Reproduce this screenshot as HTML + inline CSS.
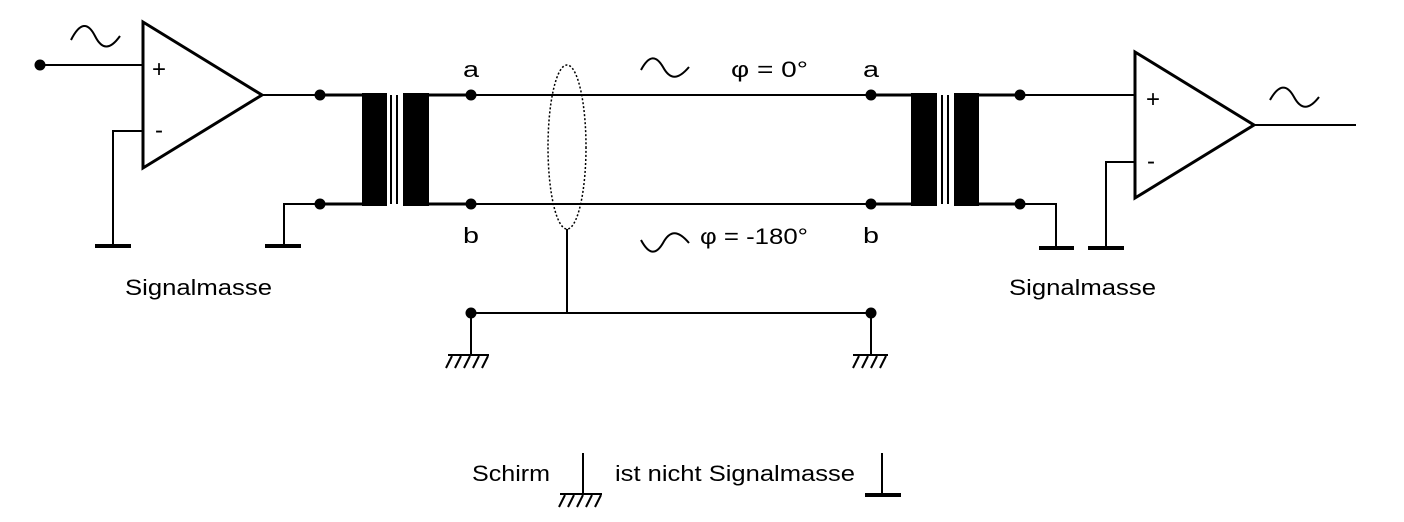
<!DOCTYPE html>
<html><head><style>body{margin:0;background:#fff}svg{display:block}text{font-family:"Liberation Sans",Arial,sans-serif;fill:#000}</style></head><body>
<svg width="1404" height="522" viewBox="0 0 1404 522" xmlns="http://www.w3.org/2000/svg">
<g stroke="#000" fill="none" stroke-width="2">
<polygon points="143,22 143,168 262,95" stroke-width="3"/>
<line x1="40" y1="65" x2="143" y2="65"/>
<polyline points="143,131 113,131 113,246"/>
<line x1="95" y1="246" x2="131" y2="246" stroke-width="4"/>
<path d="M71,40 C80,22 88,22 95,36 C102,50 110,50 120,36"/>
<line x1="262" y1="95" x2="320" y2="95"/>
<line x1="320" y1="95" x2="362" y2="95" stroke-width="3"/>
<line x1="320" y1="204" x2="362" y2="204" stroke-width="3"/>
<polyline points="320,204 284,204 284,246"/>
<line x1="265" y1="246" x2="301" y2="246" stroke-width="4"/>
<line x1="391" y1="95" x2="391" y2="204"/>
<line x1="397" y1="95" x2="397" y2="204"/>
<line x1="429" y1="95" x2="471" y2="95" stroke-width="3"/>
<line x1="429" y1="204" x2="471" y2="204" stroke-width="3"/>
<line x1="471" y1="95" x2="871" y2="95"/>
<line x1="471" y1="204" x2="871" y2="204"/>
<path d="M641,70 C649,55 656,55 663,67 C670,80 678,80 689,67"/>
<path d="M641,240 C649,255 656,255 663,243 C670,230 678,230 689,243"/>
<ellipse cx="567" cy="147" rx="19" ry="82" stroke-width="1.5" stroke-dasharray="2,2"/>
<line x1="567" y1="229" x2="567" y2="313"/>
<line x1="471" y1="313" x2="871" y2="313"/>
<line x1="471" y1="313" x2="471" y2="355"/>
<line x1="448" y1="355" x2="489" y2="355"/>
<path d="M452,356 l-6,12 M461,356 l-6,12 M470,356 l-6,12 M479,356 l-6,12 M488,356 l-6,12"/>
<line x1="871" y1="313" x2="871" y2="355"/>
<line x1="853" y1="355" x2="888" y2="355"/>
<path d="M859,356 l-6,12 M868,356 l-6,12 M877,356 l-6,12 M886,356 l-6,12"/>
<line x1="871" y1="95" x2="911" y2="95" stroke-width="3"/>
<line x1="871" y1="204" x2="911" y2="204" stroke-width="3"/>
<line x1="942" y1="95" x2="942" y2="204"/>
<line x1="948" y1="95" x2="948" y2="204"/>
<line x1="979" y1="95" x2="1020" y2="95" stroke-width="3"/>
<line x1="979" y1="204" x2="1020" y2="204" stroke-width="3"/>
<polyline points="1020,204 1056,204 1056,248"/>
<line x1="1039" y1="248" x2="1074" y2="248" stroke-width="4"/>
<line x1="1020" y1="95" x2="1135" y2="95"/>
<polygon points="1135,52 1135,198 1254,125" stroke-width="3"/>
<polyline points="1135,162 1106,162 1106,248"/>
<line x1="1088" y1="248" x2="1124" y2="248" stroke-width="4"/>
<line x1="1254" y1="125" x2="1356" y2="125"/>
<path d="M1270,100 C1279,84 1287,84 1294,97 C1301,110 1309,110 1319,97"/>
<line x1="583" y1="453" x2="583" y2="494"/>
<line x1="560" y1="494" x2="602" y2="494"/>
<path d="M565,495 l-6,12 M574,495 l-6,12 M583,495 l-6,12 M592,495 l-6,12 M601,495 l-6,12"/>
<line x1="882" y1="453" x2="882" y2="494"/>
<line x1="865" y1="495" x2="901" y2="495" stroke-width="4"/>
</g>
<g fill="#000">
<rect x="362" y="93" width="25" height="113"/>
<rect x="403" y="93" width="26" height="113"/>
<rect x="911" y="93" width="26" height="113"/>
<rect x="954" y="93" width="25" height="113"/>
<circle cx="40" cy="65" r="5.5"/>
<circle cx="320" cy="95" r="5.5"/><circle cx="320" cy="204" r="5.5"/>
<circle cx="471" cy="95" r="5.5"/><circle cx="471" cy="204" r="5.5"/>
<circle cx="871" cy="95" r="5.5"/><circle cx="871" cy="204" r="5.5"/>
<circle cx="1020" cy="95" r="5.5"/><circle cx="1020" cy="204" r="5.5"/>
<circle cx="471" cy="313" r="5.5"/><circle cx="871" cy="313" r="5.5"/>
</g>
<g font-size="22">
<text x="152" y="77" font-size="24">+</text>
<text x="155" y="138" font-size="24">-</text>
<text x="1146" y="107" font-size="24">+</text>
<text x="1147" y="169" font-size="24">-</text>
<text x="463" y="77" textLength="16" lengthAdjust="spacingAndGlyphs">a</text>
<text x="463" y="243" textLength="16" lengthAdjust="spacingAndGlyphs">b</text>
<text x="863" y="77" textLength="16" lengthAdjust="spacingAndGlyphs">a</text>
<text x="863" y="243" textLength="16" lengthAdjust="spacingAndGlyphs">b</text>
<text x="731" y="77" textLength="77" lengthAdjust="spacingAndGlyphs">φ = 0°</text>
<text x="700" y="244" textLength="108" lengthAdjust="spacingAndGlyphs">φ = -180°</text>
<text x="125" y="295" textLength="147" lengthAdjust="spacingAndGlyphs">Signalmasse</text>
<text x="1009" y="295" textLength="147" lengthAdjust="spacingAndGlyphs">Signalmasse</text>
<text x="472" y="481" textLength="78" lengthAdjust="spacingAndGlyphs">Schirm</text>
<text x="615" y="481" textLength="240" lengthAdjust="spacingAndGlyphs">ist nicht Signalmasse</text>
</g>
</svg>
</body></html>
